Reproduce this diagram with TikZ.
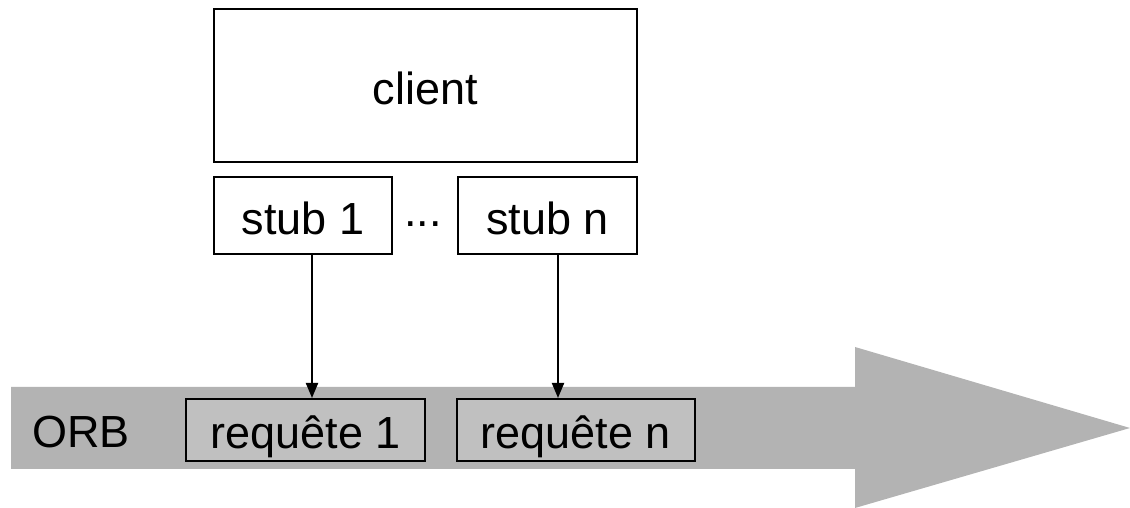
\documentclass[tikz,border=0pt]{standalone}
\usepackage{fontspec}
\setmainfont{Liberation Sans}
\usetikzlibrary{arrows.meta}
\definecolor{bandgray}{RGB}{179,179,179}
\definecolor{reqgray}{RGB}{192,192,192}
\begin{document}
\begin{tikzpicture}[x=1pt,y=1pt,
  txt/.style={font=\fontsize{45}{54}\selectfont},
  box/.style={txt,draw=black,line width=2.5pt,fill=white,inner sep=0pt,text height=38pt,text depth=0pt,align=center},
  reqbox/.style={box,fill=reqgray,line width=2pt},
  conn/.style={line width=2pt,-{Triangle[length=15pt,width=12pt]}}]
\useasboundingbox (0,0) rectangle (1130,508);
% ORB band arrow
\fill[bandgray] (11,121) -- (855,121) -- (855,161) -- (1130,80) -- (855,0) -- (855,39) -- (11,39) -- cycle;
\node[txt,anchor=base] (orb) at (81,60) {ORB};
% client and stubs
\node[box,minimum width=423pt,minimum height=153pt] (client) at (425.5,422.5) {client};
\node[box,minimum width=178pt,minimum height=77pt] (stub1) at (303,292.5) {stub 1};
\node[box,minimum width=179pt,minimum height=77pt] (stubn) at (547.5,292.5) {stub n};
\node[txt,anchor=base] (dots) at (423,281) {...};
% requests
\node[reqbox,minimum width=239pt,minimum height=62pt] (req1) at (305.5,78) {requête 1};
\node[reqbox,minimum width=238pt,minimum height=62pt] (reqn) at (576,78) {requête n};
% connectors
\draw[conn] ([xshift=9pt]stub1.south) -- ([xshift=9pt]stub1.south |- req1.north);
\draw[conn] ([xshift=10.5pt]stubn.south) -- ([xshift=10.5pt]stubn.south |- reqn.north);
\end{tikzpicture}
\end{document}
